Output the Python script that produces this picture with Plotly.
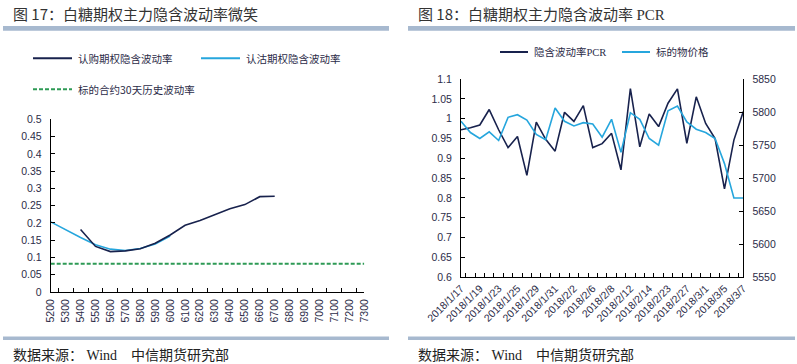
import plotly.graph_objects as go

# ---------------- data ----------------
strikes = ["5200", "5300", "5400", "5500", "5600", "5700", "5800", "5900", "6000", "6100", "6200",
           "6300", "6400", "6500", "6600", "6700", "6800", "6900", "7000", "7100", "7200", "7300"]
call_iv = [None, None, 0.181, 0.132, 0.117, 0.119, 0.125, 0.141, 0.165, 0.193, 0.207,
           0.224, 0.241, 0.253, 0.276, 0.277, None, None, None, None, None, None]
put_iv = [0.203, 0.180, 0.158, 0.137, 0.124, 0.120, 0.126, 0.139, 0.162, None, None,
          None, None, None, None, None, None, None, None, None, None, None]
hist_vol = [0.082, 0.082, 0.082, 0.082, 0.082, 0.082, 0.082, 0.082, 0.082, 0.082, 0.082,
            0.082, 0.082, 0.082, 0.082, 0.082, 0.082, 0.082, 0.082, 0.082, 0.082, 0.082]
left_yticks = [0, 0.05, 0.1, 0.15, 0.2, 0.25, 0.3, 0.35, 0.4, 0.45, 0.5]
left_yticklabels = ["0", "0.05", "0.1", "0.15", "0.2", "0.25", "0.3", "0.35", "0.4", "0.45", "0.5"]

dates = ["2018/1/17", "2018/1/18", "2018/1/19", "2018/1/22", "2018/1/23", "2018/1/24", "2018/1/25",
         "2018/1/26", "2018/1/29", "2018/1/30", "2018/1/31", "2018/2/1", "2018/2/2", "2018/2/5",
         "2018/2/6", "2018/2/7", "2018/2/8", "2018/2/9", "2018/2/12", "2018/2/13", "2018/2/14",
         "2018/2/22", "2018/2/23", "2018/2/26", "2018/2/27", "2018/2/28", "2018/3/1", "2018/3/2",
         "2018/3/5", "2018/3/6", "2018/3/7"]
date_labels = ["2018/1/17", "2018/1/19", "2018/1/23", "2018/1/25", "2018/1/29", "2018/1/31",
               "2018/2/2", "2018/2/6", "2018/2/8", "2018/2/12", "2018/2/14", "2018/2/23",
               "2018/2/27", "2018/3/1", "2018/3/5", "2018/3/7"]
pcr = [0.972, 0.977, 0.984, 1.023, 0.972, 0.927, 0.955, 0.857, 0.991, 0.948, 0.918,
       1.016, 0.993, 1.033, 0.927, 0.937, 0.963, 0.871, 1.076, 0.929, 1.012, 0.980,
       1.039, 1.075, 0.938, 1.055, 0.988, 0.950, 0.823, 0.946, 1.018]
price = [5786, 5769, 5760, 5770, 5757, 5792, 5796, 5788, 5766, 5758, 5806,
         5786, 5779, 5784, 5782, 5762, 5789, 5739, 5799, 5789, 5760, 5750,
         5802, 5809, 5785, 5774, 5769, 5760, 5722, 5670, 5670]
right_yticks = [0.6, 0.65, 0.7, 0.75, 0.8, 0.85, 0.9, 0.95, 1.0, 1.05, 1.1]
right_yticklabels = ["0.6", "0.65", "0.7", "0.75", "0.8", "0.85", "0.9", "0.95", "1", "1.05", "1.1"]
price_ticks = [5550, 5600, 5650, 5700, 5750, 5800, 5850]

# ---------------- style ----------------
W, H = 797, 364
NAVY = "#18224d"
LBLUE = "#26a6dd"
GREEN = "#2e9a55"
BAR = "#a7b9cf"
TXT = "#2c2c48"
FONT = "Liberation Sans, Arial, Noto Sans CJK SC"
CJK = "Noto Sans CJK SC, Liberation Sans"


def px_x(v):
    return v / W


def px_y(v):
    return 1 - v / H


fig = go.Figure()

fig.add_trace(go.Scatter(x=strikes, y=hist_vol, mode="lines", xaxis="x", yaxis="y",
                         line=dict(color=GREEN, width=2, dash="4px,2px"), showlegend=False))
fig.add_trace(go.Scatter(x=strikes, y=put_iv, mode="lines", xaxis="x", yaxis="y",
                         line=dict(color=LBLUE, width=1.6), showlegend=False))
fig.add_trace(go.Scatter(x=strikes, y=call_iv, mode="lines", xaxis="x", yaxis="y",
                         line=dict(color=NAVY, width=1.6), showlegend=False))

fig.add_trace(go.Scatter(x=dates, y=pcr, mode="lines", xaxis="x2", yaxis="y2",
                         line=dict(color=NAVY, width=1.6), showlegend=False))
fig.add_trace(go.Scatter(x=dates, y=price, mode="lines", xaxis="x2", yaxis="y3",
                         line=dict(color=LBLUE, width=1.6), showlegend=False))

tickfont = dict(family=FONT, size=10.5, color=TXT)

fig.update_layout(
    width=W, height=H, autosize=False,
    margin=dict(l=0, r=0, t=0, b=0, autoexpand=False),
    paper_bgcolor="white", plot_bgcolor="white",
    showlegend=False,
    xaxis=dict(domain=[px_x(50.7), px_x(364.3)], anchor="y", type="category",
               categoryorder="array", categoryarray=strikes, automargin=False,
               showline=True, linecolor="black", linewidth=1,
               ticks="inside", ticklen=4, tickcolor="black", tickson="boundaries",
               tickangle=-90, tickfont=tickfont, showgrid=False, zeroline=False,
               ticklabelstandoff=2),
    yaxis=dict(domain=[px_y(292), px_y(119.3)], anchor="x", range=[0, 0.5], automargin=False,
               tickvals=left_yticks, ticktext=left_yticklabels,
               showline=True, linecolor="black", linewidth=1,
               ticks="inside", ticklen=4, tickcolor="black",
               tickfont=tickfont, showgrid=False, zeroline=False,
               ticklabelstandoff=6),
    xaxis2=dict(domain=[px_x(461), px_x(743.3)], anchor="y2", type="category",
                categoryorder="array", categoryarray=dates, automargin=False,
                tickvals=dates, ticktext=[d if d in date_labels else "" for d in dates],
                showline=True, linecolor="black", linewidth=1,
                ticks="inside", ticklen=4, tickcolor="black", tickson="boundaries",
                tickangle=-45, tickfont=tickfont, showgrid=False, zeroline=False),
    yaxis2=dict(domain=[px_y(277.3), px_y(79)], anchor="x2", range=[0.6, 1.1], automargin=False,
                tickvals=right_yticks, ticktext=right_yticklabels,
                showline=True, linecolor="black", linewidth=1,
                ticks="inside", ticklen=4, tickcolor="black",
                tickfont=tickfont, showgrid=False, zeroline=False,
                ticklabelstandoff=6),
    yaxis3=dict(overlaying="y2", side="right", anchor="x2", range=[5550, 5850], automargin=False,
                tickvals=price_ticks,
                showline=True, linecolor="black", linewidth=1,
                ticks="inside", ticklen=4, tickcolor="black",
                tickfont=tickfont, showgrid=False, zeroline=False,
                ticklabelstandoff=6),
)

shapes = []
annotations = []

# title bars and footer bars
for x0, x1 in [(3, 389), (408, 795)]:
    shapes.append(dict(type="rect", xref="paper", yref="paper",
                       x0=px_x(x0), x1=px_x(x1), y0=px_y(30.7), y1=px_y(26),
                       fillcolor=BAR, line=dict(width=0), layer="below"))
    shapes.append(dict(type="rect", xref="paper", yref="paper",
                       x0=px_x(x0), x1=px_x(x1), y0=px_y(340), y1=px_y(336.6),
                       fillcolor=BAR, line=dict(width=0), layer="below"))

# titles
annotations.append(dict(xref="paper", yref="paper", x=px_x(11), y=px_y(14),
                        xanchor="left", yanchor="middle", showarrow=False,
                        text="图 17：白糖期权主力隐含波动率微笑",
                        font=dict(family=CJK, size=15, color="#333333")))
annotations.append(dict(xref="paper", yref="paper", x=px_x(416), y=px_y(14),
                        xanchor="left", yanchor="middle", showarrow=False,
                        text="图 18：白糖期权主力隐含波动率 <span style='font-family:Liberation Serif'>PCR</span>",
                        font=dict(family=CJK, size=15, color="#333333")))
# footers
for fx in [11, 416]:
    annotations.append(dict(xref="paper", yref="paper", x=px_x(fx), y=px_y(354),
                            xanchor="left", yanchor="middle", showarrow=False,
                            text="数据来源：<span style='font-family:Liberation Serif'>&nbsp;Wind&nbsp;&nbsp;&nbsp;&nbsp;</span>中信期货研究部",
                            font=dict(family=CJK, size=14, color="#222222")))

# manual legends
legend_items = [
    (33, 72, 58.3, NAVY, "solid", "认购期权隐含波动率"),
    (201, 240, 58.3, LBLUE, "solid", "认沽期权隐含波动率"),
    (33, 72, 89.3, GREEN, "4px,2px", "标的合约30天历史波动率"),
    (500, 528, 52, NAVY, "solid", "隐含波动率<span style='font-family:Liberation Serif'>PCR</span>"),
    (622, 650, 52, LBLUE, "solid", "标的物价格"),
]
for x0, x1, yy, col, dash, label in legend_items:
    shapes.append(dict(type="line", xref="paper", yref="paper",
                       x0=px_x(x0), x1=px_x(x1), y0=px_y(yy), y1=px_y(yy),
                       line=dict(color=col, width=2, dash=dash)))
    annotations.append(dict(xref="paper", yref="paper", x=px_x(x1 + 4), y=px_y(yy),
                            xanchor="left", yanchor="middle", showarrow=False,
                            text=label, font=dict(family=CJK, size=10.5, color=TXT)))

fig.update_layout(shapes=shapes, annotations=annotations)

fig.write_html(
    "out.html",
    config={"displayModeBar": False},
    post_script="document.body.style.margin='0';document.body.style.padding='0';"
                "document.documentElement.style.overflow='hidden';",
)
